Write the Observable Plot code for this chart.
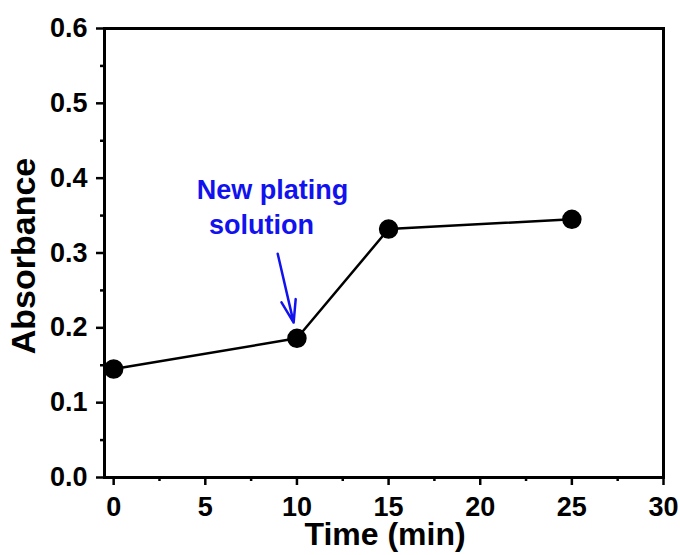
<!DOCTYPE html>
<html>
<head>
<meta charset="utf-8">
<script src="https://cdn.jsdelivr.net/npm/d3@7"></script>
<script src="https://cdn.jsdelivr.net/npm/@observablehq/plot@0.6"></script>
<style>
  html, body { margin: 0; padding: 0; background: #fff; }
  #chart svg { display: block; }
</style>
</head>
<body>
<div id="chart"></div>
<script>
const times = [0, 10, 15, 25];
const absorbance = [0.145, 0.186, 0.332, 0.345];
const xTicks = [0, 5, 10, 15, 20, 25, 30];
const xMinor = [2.5, 7.5, 12.5, 17.5, 22.5, 27.5];
const yTicks = [0, 0.1, 0.2, 0.3, 0.4, 0.5, 0.6];
const yMinor = [0.05, 0.15, 0.25, 0.35, 0.45, 0.55];
const xTitle = "Time (min)";
const yTitle = "Absorbance";
const noteLines = ["New plating", "solution"];
const noteX = [8.67, 8.07];
const noteY = [0.384, 0.3375];
const arrowFrom = [8.95, 0.299];
const arrowTo = [9.82, 0.207];

const data = times.map((t, i) => ({t, a: absorbance[i]}));
const notes = noteLines.map((s, i) => ({s, x: noteX[i], y: noteY[i]}));
const blue = "#1212ee";

const chart = Plot.plot({
  width: 680,
  height: 555,
  marginLeft: 104,
  marginRight: 17,
  marginTop: 28,
  marginBottom: 78,
  style: {fontFamily: "'Liberation Sans', Arial, sans-serif", fontWeight: "bold", fontSize: "27px", color: "#000", background: "#fff"},
  x: {domain: [-0.5, 30]},
  y: {domain: [0, 0.6]},
  marks: [
    Plot.axisX(xMinor, {tickSize: 4, text: null, strokeWidth: 2.5, label: null}),
    Plot.axisY(yMinor, {tickSize: 4, text: null, strokeWidth: 2.5, label: null}),
    Plot.axisX(xTicks, {tickSize: 8, tickPadding: 11, strokeWidth: 2.5, label: null}),
    Plot.axisY(yTicks, {tickSize: 8, tickPadding: 9, strokeWidth: 2.5, tickFormat: d3.format(".1f"), label: null}),
    Plot.text([xTitle], {frameAnchor: "bottom", textAnchor: "middle", dx: 1, dy: 67, fontSize: 32, fontWeight: "bold", fill: "#000"}),
    Plot.text([yTitle], {frameAnchor: "left", textAnchor: "middle", dx: -80, dy: 3, rotate: -90, fontSize: 34, fontWeight: "bold", fill: "#000"}),
    Plot.frame({stroke: "#000", strokeWidth: 3}),
    Plot.line(data, {x: "t", y: "a", stroke: "#000", strokeWidth: 2.5}),
    Plot.dot(data, {x: "t", y: "a", r: 9, fill: "#000", stroke: "#000"}),
    Plot.text(notes, {x: "x", y: "y", text: "s", fill: blue, fontSize: 27, fontWeight: "bold"}),
    Plot.arrow([{x1: arrowFrom[0], y1: arrowFrom[1], x2: arrowTo[0], y2: arrowTo[1]}],
      {x1: "x1", y1: "y1", x2: "x2", y2: "y2", stroke: blue, strokeWidth: 2.5, headLength: 18, headAngle: 36})
  ]
});
document.getElementById("chart").appendChild(chart);
</script>
</body>
</html>
